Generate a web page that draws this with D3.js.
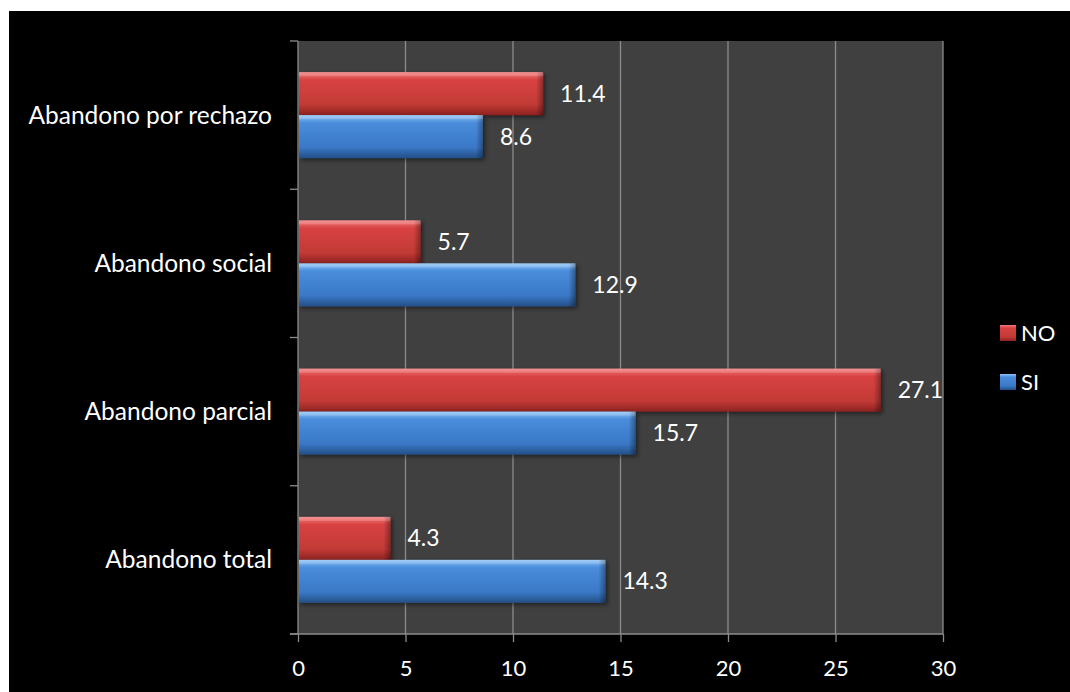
<!DOCTYPE html>
<html><head><meta charset="utf-8">
<script src="https://cdn.jsdelivr.net/npm/d3@7"></script>
<style>html,body{margin:0;padding:0;background:#fff;}svg{display:block;}</style>
</head><body>
<svg id="c" width="1070" height="692"></svg>
<script>
const categories = ["Abandono por rechazo", "Abandono social", "Abandono parcial", "Abandono total"];
const seriesNames = ["NO", "SI"];
const valuesNO = [11.4, 5.7, 27.1, 4.3];
const valuesSI = [8.6, 12.9, 15.7, 14.3];
const xTicks = [0, 5, 10, 15, 20, 25, 30];

const svg = d3.select("#c");
const FONT = "Lato, 'Open Sans', sans-serif";
svg.append("rect").attr("x", 9).attr("y", 11).attr("width", 1061).attr("height", 681).attr("fill", "#000");

const m = {l: 298, r: 943, t: 41, b: 634};
const x = d3.scaleLinear().domain([0, 30]).range([m.l, m.r]);
const y0 = d3.scaleBand().domain(categories).range([m.t, m.b]).padding(0);
const y1 = d3.scaleBand().domain(seriesNames).range([0, y0.bandwidth()]).paddingInner(0).paddingOuter(0.724);
const colors = {NO: ["#f47b7b", "#d84242", "#c23a35", "#8e2222"], SI: ["#8fc4f7", "#4a8ddb", "#3a78c6", "#234f86"]};

const defs = svg.append("defs");
seriesNames.forEach(s => {
  const g = defs.append("linearGradient").attr("id", "g" + s).attr("x1", 0).attr("y1", 0).attr("x2", 0).attr("y2", 1);
  const c = colors[s];
  g.append("stop").attr("offset", "0").attr("stop-color", c[0]);
  g.append("stop").attr("offset", "0.18").attr("stop-color", c[1]);
  g.append("stop").attr("offset", "0.75").attr("stop-color", c[2]);
  g.append("stop").attr("offset", "1").attr("stop-color", c[3]);
});
const ge = defs.append("linearGradient").attr("id", "gEnd").attr("x1", 0).attr("y1", 0).attr("x2", 1).attr("y2", 0);
ge.append("stop").attr("offset", "0").attr("stop-color", "#000").attr("stop-opacity", 0);
ge.append("stop").attr("offset", "1").attr("stop-color", "#000").attr("stop-opacity", 0.35);
const f = defs.append("filter").attr("id", "sh").attr("x", "-5%").attr("y", "-20%").attr("width", "115%").attr("height", "150%");
f.append("feDropShadow").attr("dx", 2).attr("dy", 2).attr("stdDeviation", 2).attr("flood-color", "#000").attr("flood-opacity", 0.5);

// plot area
svg.append("rect").attr("x", m.l).attr("y", m.t).attr("width", m.r - m.l).attr("height", m.b - m.t).attr("fill", "#404040");

// gridlines
svg.append("g").selectAll("line").data(xTicks.slice(1)).join("line")
  .attr("x1", d => x(d)).attr("x2", d => x(d)).attr("y1", m.t).attr("y2", m.b)
  .attr("stroke", "#8c8c8c").attr("stroke-width", 1.3);

// x axis
const xa = svg.append("g").attr("transform", `translate(0,${m.b})`)
  .call(d3.axisBottom(x).tickValues(xTicks).tickSize(8).tickPadding(18));
xa.select(".domain").attr("stroke", "#8c8c8c").attr("stroke-width", 1.3).attr("d", `M${m.l - 8},0H${m.r}`);
xa.selectAll(".tick line").attr("stroke", "#8c8c8c").attr("stroke-width", 1.3);
xa.selectAll("text").attr("fill", "#fff").attr("font-family", FONT).attr("font-size", 22);

// y axis
svg.append("line").attr("x1", m.l).attr("x2", m.l).attr("y1", m.t).attr("y2", m.b).attr("stroke", "#8c8c8c").attr("stroke-width", 1.3);
const yEdges = categories.map(c => y0(c)).concat([m.b]);
svg.append("g").selectAll("line").data(yEdges).join("line")
  .attr("x1", m.l - 8).attr("x2", m.l).attr("y1", d => d).attr("y2", d => d)
  .attr("stroke", "#8c8c8c").attr("stroke-width", 1.3);
svg.append("g").selectAll("text").data(categories).join("text")
  .attr("x", 272).attr("y", d => y0(d) + y0.bandwidth() / 2).attr("dy", "0.35em")
  .attr("text-anchor", "end").attr("fill", "#fff").attr("font-family", FONT).attr("font-size", 24.5).text(d => d);

// bars
const rows = [];
categories.forEach((c, i) => {
  rows.push({c, s: "NO", v: valuesNO[i]});
  rows.push({c, s: "SI", v: valuesSI[i]});
});
const bg = svg.append("g");
rows.forEach(r => {
  const by = y0(r.c) + y1(r.s), bh = y1.bandwidth(), bw = x(r.v) - x(0);
  const g = bg.append("g").attr("filter", "url(#sh)");
  g.append("rect").attr("x", x(0) + 1).attr("y", by).attr("width", bw - 1).attr("height", bh).attr("fill", `url(#g${r.s})`);
  g.append("rect").attr("x", x(r.v) - 7).attr("y", by).attr("width", 7).attr("height", bh).attr("fill", "url(#gEnd)");
  g.append("rect").attr("x", x(0) + 1).attr("y", by).attr("width", bw - 1).attr("height", 4).attr("fill", "#fff").attr("opacity", 0.18);
  bg.append("text").attr("x", x(r.v) + 17).attr("y", by + bh / 2).attr("dy", "0.35em")
    .attr("fill", "#fff").attr("font-family", FONT).attr("font-size", 23).text(r.v.toFixed(1));
});

// legend
const lg = svg.append("g");
seriesNames.forEach((s, i) => {
  const ly = 325 + i * 49;
  lg.append("rect").attr("x", 1000).attr("y", ly).attr("width", 16).attr("height", 16).attr("fill", `url(#g${s})`);
  lg.append("text").attr("x", 1021).attr("y", ly + 8).attr("dy", "0.35em").attr("fill", "#fff")
    .attr("font-family", FONT).attr("font-size", 22).text(s);
});
</script>
</body></html>
